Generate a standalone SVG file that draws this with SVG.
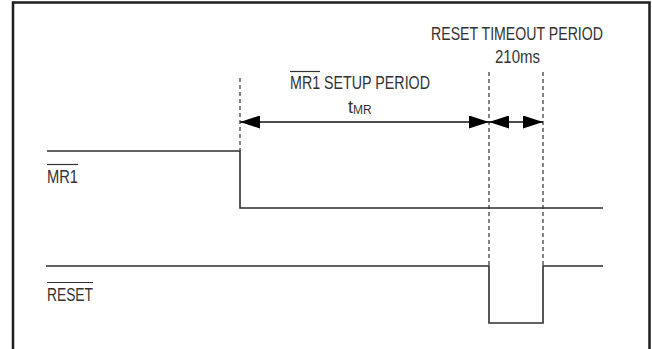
<svg xmlns="http://www.w3.org/2000/svg" width="652" height="349" viewBox="0 0 652 349">
<style>
  .frame{fill:none;stroke:#1e1e1e;stroke-width:2.5}
  .sig{fill:none;stroke:#2e2e2e;stroke-width:1.6}
  .dash{fill:none;stroke:#333;stroke-width:1.2;stroke-dasharray:4 3}
  .dim{fill:none;stroke:#111;stroke-width:1.5}
  .ovl{fill:none;stroke:#333;stroke-width:1.2}
  text{font-family:"Liberation Sans Narrow","Liberation Sans",Arial,sans-serif;font-size:18px;fill:#333}
  .sub{font-size:12px}
</style>
<defs>
  <marker id="ah" markerUnits="userSpaceOnUse" markerWidth="20" markerHeight="13" refX="20" refY="6.5" orient="auto-start-reverse">
    <path d="M0,0 L20,6.5 L0,13 z" fill="#000"/>
  </marker>
</defs>
<rect width="652" height="349" fill="#fff"/>
<path class="frame" d="M13,352 V2.5 H649.5 V352"/>

<g id="timing-guides">
  <line class="dash" x1="240" y1="78" x2="240" y2="151"/>
  <line class="dash" x1="489" y1="72" x2="489" y2="266"/>
  <line class="dash" x1="543" y1="72" x2="543" y2="266"/>
</g>

<g id="mr1-signal">
  <path class="sig" d="M47,151 H240 V208 H603"/>
  <text x="47" y="183" textLength="31" lengthAdjust="spacingAndGlyphs">MR1</text>
  <line class="ovl" x1="47" y1="164.5" x2="78" y2="164.5"/>
</g>

<g id="reset-signal">
  <path class="sig" d="M46,266 H489 V323 H543 V266 H603"/>
  <text x="47" y="301" textLength="46" lengthAdjust="spacingAndGlyphs">RESET</text>
  <line class="ovl" x1="47" y1="282.5" x2="93" y2="282.5"/>
</g>

<g id="connectors">
  <line class="dim" x1="240" y1="122" x2="489" y2="122" marker-start="url(#ah)" marker-end="url(#ah)"/>
  <line class="dim" x1="489" y1="122" x2="543" y2="122" marker-start="url(#ah)" marker-end="url(#ah)"/>
</g>

<g id="setup-label">
  <text x="290" y="89" textLength="140" lengthAdjust="spacingAndGlyphs">MR1 SETUP PERIOD</text>
  <line class="ovl" x1="290" y1="71.5" x2="320" y2="71.5"/>
  <text x="348" y="113">t<tspan class="sub" dy="1">MR</tspan></text>
</g>

<g id="timeout-label">
  <text x="431" y="40" textLength="172" lengthAdjust="spacingAndGlyphs">RESET TIMEOUT PERIOD</text>
  <text x="495" y="63" textLength="45" lengthAdjust="spacingAndGlyphs">210ms</text>
</g>
</svg>
